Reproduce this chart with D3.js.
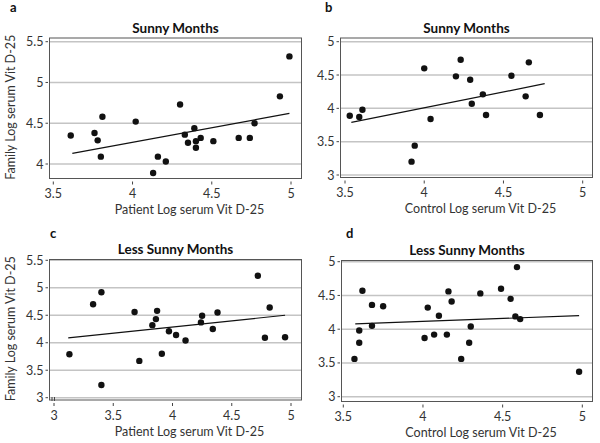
<!DOCTYPE html>
<html>
<head>
<meta charset="utf-8">
<script src="https://cdn.jsdelivr.net/npm/d3@7"></script>
<style>
  body { margin: 0; background: #ffffff; }
  svg { display: block; }
</style>
</head>
<body>
<svg id="chart" width="600" height="443"></svg>
<script>
// 패널 a : Sunny Months, patient vs family
var sunnyPatient = [3.61, 3.76, 3.78, 3.81, 3.80, 4.02, 4.30, 4.33, 4.39, 4.35, 4.40, 4.40, 4.43, 4.16, 4.21, 4.13, 4.51, 4.67, 4.74, 4.77, 4.93, 4.99];
var sunnyFamily  = [4.35, 4.38, 4.29, 4.58, 4.09, 4.52, 4.73, 4.36, 4.44, 4.26, 4.28, 4.20, 4.32, 4.09, 4.03, 3.89, 4.28, 4.32, 4.32, 4.50, 4.83, 5.32];
var sunnyFamilyFit = [[3.62, 4.13], [4.99, 4.62]];

// 패널 b : Sunny Months, control
var sunnyControlX = [3.53, 3.59, 3.61, 3.94, 3.92, 4.00, 4.04, 4.20, 4.23, 4.29, 4.30, 4.37, 4.39, 4.55, 4.64, 4.66, 4.73];
var sunnyControlY = [3.89, 3.87, 3.98, 3.44, 3.20, 4.60, 3.84, 4.48, 4.73, 4.43, 4.07, 4.21, 3.90, 4.49, 4.18, 4.69, 3.90];
var sunnyControlFit = [[3.54, 3.79], [4.76, 4.37]];

// 패널 c : Less Sunny Months, patient vs family
var lessPatient = [3.13, 3.33, 3.40, 3.40, 3.68, 3.72, 3.83, 3.86, 3.87, 3.91, 3.97, 4.03, 4.11, 4.25, 4.24, 4.34, 4.38, 4.72, 4.78, 4.82, 4.95];
var lessFamily  = [3.79, 4.70, 4.92, 3.23, 4.56, 3.67, 4.32, 4.43, 4.58, 3.80, 4.21, 4.14, 4.04, 4.49, 4.37, 4.25, 4.55, 5.22, 4.09, 4.64, 4.10];
var lessFamilyFit = [[3.12, 4.09], [4.95, 4.50]];

// 패널 d : Less Sunny Months, control
var lessControlX = [3.57, 3.60, 3.60, 3.62, 3.68, 3.68, 3.75, 4.01, 4.03, 4.07, 4.10, 4.15, 4.16, 4.18, 4.24, 4.29, 4.30, 4.36, 4.49, 4.55, 4.59, 4.58, 4.61, 4.98];
var lessControlY = [3.56, 3.80, 3.98, 4.57, 4.36, 4.05, 4.34, 3.87, 4.32, 3.92, 4.20, 3.92, 4.56, 4.41, 3.56, 3.80, 4.04, 4.53, 4.60, 4.45, 4.92, 4.19, 4.15, 3.37];
var lessControlFit = [[3.575, 4.08], [4.98, 4.20]];

// 눈금
var ticksA = { x: [3.5, 4, 4.5, 5], y: [4, 4.5, 5, 5.5] };
var ticksB = { x: [3.5, 4, 4.5, 5], y: [3, 3.5, 4, 4.5, 5] };
var ticksC = { x: [3, 3.5, 4, 4.5, 5], y: [3, 3.5, 4, 4.5, 5, 5.5] };
var ticksD = { x: [3.5, 4, 4.5, 5], y: [3, 3.5, 4, 4.5, 5] };

var FONT = "Lato, 'Open Sans', sans-serif";
var svg = d3.select("#chart");

var panels = [
  { tag: "a", title: "Sunny Months", xLabel: "Patient Log serum Vit D-25", yLabel: "Family Log serum Vit D-25",
    xs: sunnyPatient, ys: sunnyFamily, fit: sunnyFamilyFit, ticks: ticksA,
    xDom: [3.5, 5], xRange: [53.3, 291], yDom: [4, 5.5], yRange: [164, 41.7],
    box: [49.5, 38, 301.5, 178.5], tagPos: [10, 12], brk: false },
  { tag: "b", title: "Sunny Months", xLabel: "Control Log serum Vit D-25", yLabel: null,
    xs: sunnyControlX, ys: sunnyControlY, fit: sunnyControlFit, ticks: ticksB,
    xDom: [3.5, 5], xRange: [345, 582.7], yDom: [3, 5], yRange: [175, 41.7],
    box: [340.5, 38, 592.5, 177.5], tagPos: [325, 12], brk: false },
  { tag: "c", title: "Less Sunny Months", xLabel: "Patient Log serum Vit D-25", yLabel: "Family Log serum Vit D-25",
    xs: lessPatient, ys: lessFamily, fit: lessFamilyFit, ticks: ticksC,
    xDom: [3, 5], xRange: [54, 291], yDom: [3, 5.5], yRange: [397.7, 260.3],
    box: [49.5, 259.5, 301.5, 400], tagPos: [50, 238], brk: true },
  { tag: "d", title: "Less Sunny Months", xLabel: "Control Log serum Vit D-25", yLabel: null,
    xs: lessControlX, ys: lessControlY, fit: lessControlFit, ticks: ticksD,
    xDom: [3.5, 5], xRange: [343.3, 582.3], yDom: [3, 5], yRange: [396.7, 261.7],
    box: [341.5, 260.5, 592.5, 401.5], tagPos: [346, 238], brk: false }
];

function drawPanel(p) {
  var x = d3.scaleLinear().domain(p.xDom).range(p.xRange);
  var y = d3.scaleLinear().domain(p.yDom).range(p.yRange);
  var left = p.box[0], top = p.box[1], right = p.box[2], bottom = p.box[3];
  var cx = (left + right) / 2;
  var g = svg.append("g");

  // 그리드
  g.selectAll("line.grid").data(p.ticks.y).enter().append("line")
    .attr("x1", left).attr("x2", right)
    .attr("y1", function(d) { return y(d); }).attr("y2", function(d) { return y(d); })
    .attr("stroke", "#c4c4c4").attr("stroke-width", 1.5);

  // 테두리
  g.append("rect").attr("x", left).attr("y", top)
    .attr("width", right - left).attr("height", bottom - top)
    .attr("fill", "none").attr("stroke", "#555555").attr("stroke-width", 1);

  // Y 눈금
  g.selectAll("line.yt").data(p.ticks.y).enter().append("line")
    .attr("x1", left - 4).attr("x2", left - 1.5)
    .attr("y1", function(d) { return y(d); }).attr("y2", function(d) { return y(d); })
    .attr("stroke", "#444").attr("stroke-width", 1);
  g.selectAll("text.yt").data(p.ticks.y).enter().append("text")
    .attr("x", left - 6).attr("y", function(d) { return y(d) + 4.5; })
    .attr("text-anchor", "end").attr("font-family", FONT).attr("font-size", "12.5px")
    .attr("fill", "#333").text(function(d) { return d; });

  // X 눈금
  g.selectAll("line.xt").data(p.ticks.x).enter().append("line")
    .attr("x1", function(d) { return x(d); }).attr("x2", function(d) { return x(d); })
    .attr("y1", bottom + 3).attr("y2", bottom + 6)
    .attr("stroke", "#444").attr("stroke-width", 1);
  g.selectAll("text.xt").data(p.ticks.x).enter().append("text")
    .attr("x", function(d) { return x(d); }).attr("y", bottom + 19.5)
    .attr("text-anchor", "middle").attr("font-family", FONT).attr("font-size", "12.5px")
    .attr("fill", "#333").text(function(d) { return d; });

  // 축 끊김 표시
  if (p.brk) {
    [left + 2.5, left + 5].forEach(function(bx) {
      g.append("line").attr("x1", bx).attr("x2", bx)
        .attr("y1", bottom - 3).attr("y2", bottom + 1)
        .attr("stroke", "#444").attr("stroke-width", 1);
    });
  }

  // 회귀선
  g.append("line")
    .attr("x1", x(p.fit[0][0])).attr("y1", y(p.fit[0][1]))
    .attr("x2", x(p.fit[1][0])).attr("y2", y(p.fit[1][1]))
    .attr("stroke", "#111").attr("stroke-width", 1.2);

  // 점
  g.selectAll("circle").data(p.xs).enter().append("circle")
    .attr("cx", function(d) { return x(d); })
    .attr("cy", function(d, i) { return y(p.ys[i]); })
    .attr("r", 3.2).attr("fill", "#111");

  // 제목, 라벨
  g.append("text").attr("x", cx).attr("y", top - 5.5)
    .attr("text-anchor", "middle").attr("font-family", FONT).attr("font-size", "13.5px")
    .attr("font-weight", "bold").attr("fill", "#111").text(p.title);
  g.append("text").attr("x", p.tagPos[0]).attr("y", p.tagPos[1])
    .attr("font-family", FONT).attr("font-size", "13px")
    .attr("font-weight", "bold").attr("fill", "#111").text(p.tag);
  g.append("text").attr("x", cx + 14).attr("y", bottom + 35.5)
    .attr("text-anchor", "middle").attr("font-family", FONT).attr("font-size", "12.5px")
    .attr("fill", "#333").text(p.xLabel);
  if (p.yLabel) {
    g.append("text")
      .attr("transform", "translate(14.5," + ((top + bottom) / 2 - 1) + ") rotate(-90)")
      .attr("text-anchor", "middle").attr("font-family", FONT).attr("font-size", "12.5px")
      .attr("fill", "#333").text(p.yLabel);
  }
}

panels.forEach(drawPanel);
</script>
</body>
</html>
